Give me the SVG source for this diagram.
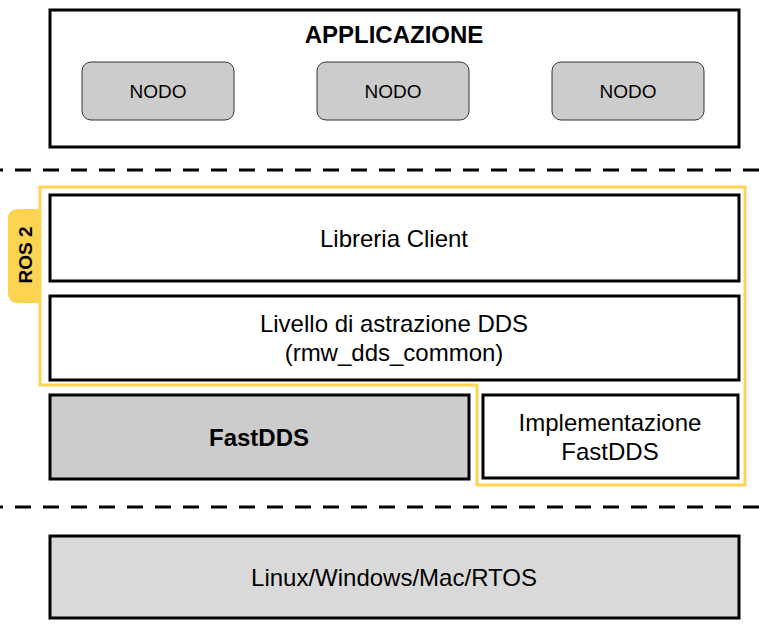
<svg xmlns="http://www.w3.org/2000/svg" width="759" height="635" viewBox="0 0 759 635">
<style>
text{font-family:"Liberation Sans",Arial,sans-serif;fill:#000;text-anchor:middle}
.box{fill:#fff;stroke:#000;stroke-width:3}
.grey{fill:#cccccc}
.lgrey{fill:#d9d9d9}
.node{fill:#cccccc;stroke:#333;stroke-width:1}
.dash{stroke:#000;stroke-width:3;stroke-dasharray:16 12;stroke-dashoffset:13;fill:none}
.t20{font-size:24px}
.t16{font-size:19px}
.b{font-weight:bold}
</style>
<rect width="759" height="635" fill="#fff"/>
<g id="connectors">
<line class="dash" x1="0" y1="170" x2="759" y2="170"/>
<line class="dash" x1="0" y1="507" x2="759" y2="507"/>
</g>
<g id="applicazione">
<rect class="box" x="50" y="10" width="689" height="137"/>
<text class="t20 b" x="394" y="43">APPLICAZIONE</text>
</g>
<g id="nodo1"><rect class="node" x="82" y="62" width="152" height="58" rx="9"/><text class="t16" x="158" y="98">NODO</text></g>
<g id="nodo2"><rect class="node" x="317" y="62" width="152" height="58" rx="9"/><text class="t16" x="393" y="98">NODO</text></g>
<g id="nodo3"><rect class="node" x="552" y="62" width="152" height="58" rx="9"/><text class="t16" x="628" y="98">NODO</text></g>
<g id="ros2">
<path d="M40,209 L18,209 Q8,209 8,219 L8,293 Q8,303 18,303 L40,303 Z" fill="#fdd352"/>
<path d="M40,187 L745,187 L745,485 L477,485 L477,385 L40,385 Z" fill="none" stroke="#fdd352" stroke-width="3"/>
<text class="b" font-size="19" transform="translate(32,255) rotate(-90)">ROS 2</text>
</g>
<g id="libreria"><rect class="box" x="50" y="195" width="689" height="86"/><text class="t20" x="394" y="247">Libreria Client</text></g>
<g id="livello"><rect class="box" x="50" y="296" width="689" height="84"/><text class="t20" x="394" y="332">Livello di astrazione DDS</text><text class="t20" x="394" y="361">(rmw_dds_common)</text></g>
<g id="fastdds"><rect class="box grey" x="50" y="395" width="419" height="84"/><text class="t20 b" x="259" y="446">FastDDS</text></g>
<g id="impl"><rect class="box" x="483" y="395" width="255" height="83"/><text class="t20" x="610" y="431">Implementazione</text><text class="t20" x="610" y="460">FastDDS</text></g>
<g id="os"><rect class="box lgrey" x="50" y="536" width="689" height="82"/><text class="t20" x="394" y="586">Linux/Windows/Mac/RTOS</text></g>
</svg>
